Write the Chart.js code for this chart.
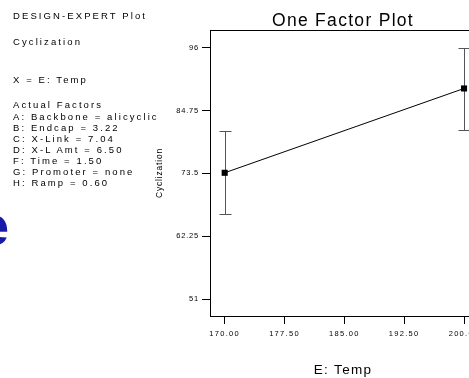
<!DOCTYPE html>
<html>
<head>
<meta charset="utf-8">
<script src="https://cdn.jsdelivr.net/npm/chart.js@4.4.1/dist/chart.umd.min.js"></script>
<style>
	html, body { margin: 0; padding: 0; background: #fff; overflow: hidden; width: 469px; height: 378px; }
	#wrap { position: absolute; left: 0; top: 0; width: 490px; height: 378px; }
	.info { position: absolute; left: 13px; font-family: "Liberation Sans", Arial, sans-serif; font-size: 9.5px; line-height: 11px; letter-spacing: 2.1px; color: #000; white-space: nowrap; }
	.logo { position: absolute; left: -22px; top: 194px; font-family: "Liberation Sans", Arial, sans-serif; font-weight: bold; font-size: 56px; line-height: 64px; color: #1a1aaa; }
</style>
</head>
<body>
<div id="wrap"><canvas id="chart" width="490" height="378"></canvas></div>
<div class="info" style="top:9.8px">DESIGN-EXPERT Plot</div>
<div class="info" style="top:36px">Cyclization</div>
<div class="info" style="top:74.3px">X = E: Temp</div>
<div class="info" style="top:99.3px">Actual Factors</div>
<div class="info" style="top:111.3px">A: Backbone = alicyclic</div>
<div class="info" style="top:122.3px">B: Endcap = 3.22</div>
<div class="info" style="top:133.3px">C: X-Link = 7.04</div>
<div class="info" style="top:144.3px">D: X-L Amt = 6.50</div>
<div class="info" style="top:155.3px">F: Time = 1.50</div>
<div class="info" style="top:166.3px">G: Promoter = none</div>
<div class="info" style="top:177.3px">H: Ramp = 0.60</div>
<div class="logo">e</div>
<script>
(function () {
	'use strict';
	var FONT = '"Liberation Sans", Arial, sans-serif';

	// data
	var temps = [170, 200];
	var cyclization = [73.6, 88.7];
	var errLow = [66.3, 81.3];
	var errHigh = [81.0, 95.9];

	var xTicks = [170, 177.5, 185, 192.5, 200];
	var xTickLabels = ['170.00', '177.50', '185.00', '192.50', '200.00'];
	var yTicks = [51, 62.25, 73.5, 84.75, 96];
	var yTickLabels = ['51', '62.25', '73.5', '84.75', '96'];

	// frame, error bars and letter spacing of the texts
	var plotExtras = {
		id: 'plotExtras',
		beforeDraw: function (chart) {
			chart.ctx.letterSpacing = '1.3px';
		},
		beforeDatasetsDraw: function (chart) {
			var ctx = chart.ctx,
				a = chart.chartArea,
				xs = chart.scales.x,
				ys = chart.scales.y;
			ctx.save();
			ctx.strokeStyle = '#000';
			ctx.lineWidth = 1;
			ctx.strokeRect(a.left + 0.5, a.top + 0.5, a.right - a.left, a.bottom - a.top);

			ctx.strokeStyle = '#555';
			ctx.beginPath();
			temps.forEach(function (t, i) {
				var px = Math.round(xs.getPixelForValue(t)) + 0.5;
				var top = Math.round(ys.getPixelForValue(errHigh[i])) + 0.5;
				var bot = Math.round(ys.getPixelForValue(errLow[i])) + 0.5;
				ctx.moveTo(px, top);
				ctx.lineTo(px, bot);
				ctx.moveTo(px - 6, top);
				ctx.lineTo(px + 6, top);
				ctx.moveTo(px - 6, bot);
				ctx.lineTo(px + 6, bot);
			});
			ctx.stroke();
			ctx.restore();
			ctx.letterSpacing = '0.8px';
		},
		afterDraw: function (chart) {
			chart.ctx.letterSpacing = '0px';
		}
	};

	new Chart(document.getElementById('chart'), {
		type: 'line',
		data: {
			datasets: [{
				data: temps.map(function (t, i) { return {x: t, y: cyclization[i]}; }),
				borderColor: '#000',
				borderWidth: 1,
				pointStyle: 'rect',
				pointRadius: 4.3,
				pointBackgroundColor: '#000',
				pointBorderColor: '#000',
				pointBorderWidth: 0,
				tension: 0
			}]
		},
		options: {
			responsive: false,
			animation: false,
			layout: {
				padding: {left: 0, right: 14, top: 0, bottom: 0}
			},
			plugins: {
				legend: {display: false},
				tooltip: {enabled: false},
				title: {
					display: true,
					fullSize: false,
					text: 'One Factor Plot',
					color: '#000',
					font: {family: FONT, size: 17.5, weight: 'normal', lineHeight: 1},
					padding: {top: 12.5, bottom: 0}
				}
			},
			scales: {
				x: {
					type: 'linear',
					min: 168.16,
					max: 201.5,
					afterBuildTicks: function (s) {
						s.ticks = xTicks.map(function (v) { return {value: v}; });
					},
					afterFit: function (s) {
						s.height = 62;
					},
					ticks: {
						autoSkip: false,
						maxRotation: 0,
						padding: 5,
						color: '#000',
						font: {family: FONT, size: 7.5},
						callback: function (v) { return xTickLabels[xTicks.indexOf(v)]; }
					},
					grid: {drawOnChartArea: false, tickLength: 8, tickColor: '#000'},
					border: {display: false},
					title: {
						display: true,
						text: 'E: Temp',
						color: '#000',
						font: {family: FONT, size: 13.5, lineHeight: 1},
						padding: {top: 0, bottom: 1}
					}
				},
				y: {
					type: 'linear',
					min: 47.956,
					max: 99.17,
					afterBuildTicks: function (s) {
						s.ticks = yTicks.map(function (v) { return {value: v}; });
					},
					afterFit: function (s) {
						s.width = 210;
					},
					ticks: {
						z: 1,
						padding: 3,
						color: '#000',
						font: {family: FONT, size: 7.5},
						callback: function (v) { return yTickLabels[yTicks.indexOf(v)]; }
					},
					grid: {drawOnChartArea: false, tickLength: 8, tickColor: '#000', z: 1},
					border: {display: false},
					title: {
						display: true,
						text: 'Cyclization',
						color: '#000',
						font: {family: FONT, size: 8.5, lineHeight: 1.2},
						padding: {top: 155, bottom: 0}
					}
				}
			}
		},
		plugins: [plotExtras]
	});
})();
</script>
</body>
</html>
